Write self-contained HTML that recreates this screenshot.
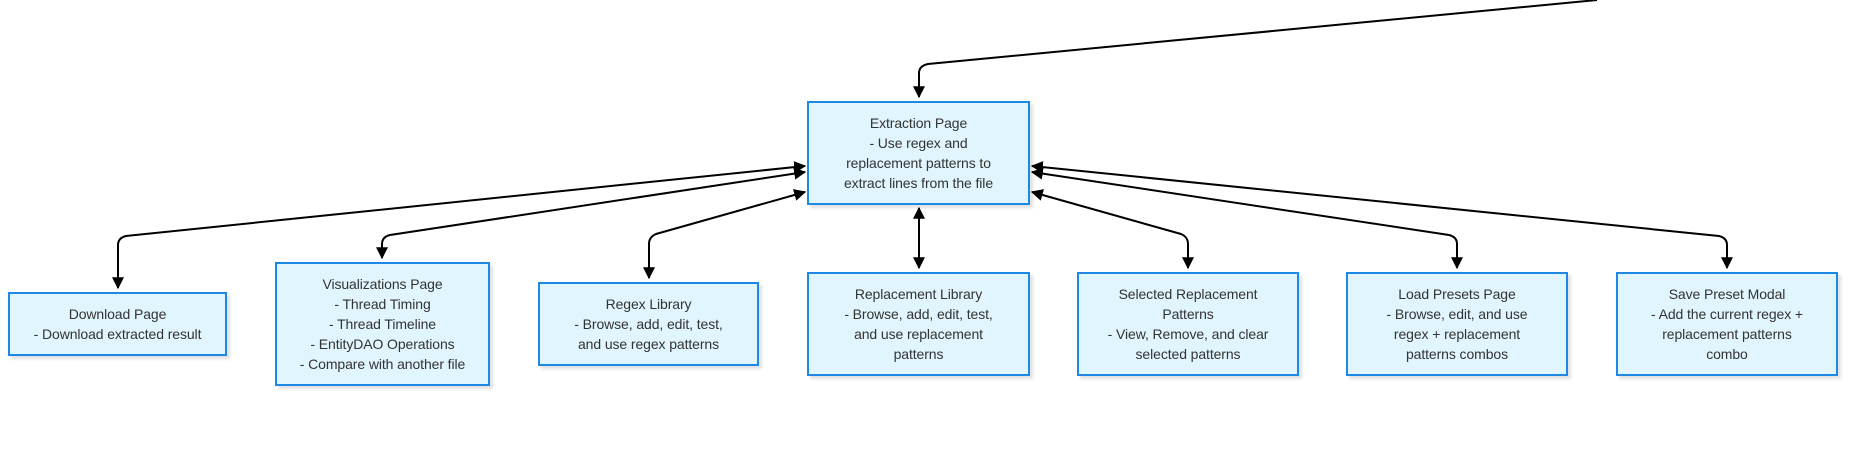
<!DOCTYPE html>
<html><head><meta charset="utf-8"><style>
body{margin:0;width:1874px;height:458px;background:#fff;position:relative;overflow:hidden;font-family:"Liberation Sans",sans-serif}
.b{position:absolute;box-sizing:border-box;background:#e1f5fe;border:2px solid #1e88e5;box-shadow:3px 3px 3px rgba(0,0,0,.12);display:flex;align-items:center;justify-content:center;text-align:center;font-size:14px;line-height:20px;color:#333;letter-spacing:-0.1px}
svg{position:absolute;left:0;top:0}
</style></head><body>
<svg width="1874" height="458">
<defs><marker id="a" viewBox="0 0 10 10" refX="9" refY="5" markerWidth="6" markerHeight="6" orient="auto-start-reverse"><path d="M0 0L10 5L0 10z" fill="#000"/></marker></defs>
<g fill="none" stroke="#000" stroke-width="2">
<path d="M1597 0 L928 64 Q919 66 919 73 L919 97" marker-end="url(#a)"/>
<path d="M805 166 L126 236 Q118 238 118 245 L118 288" marker-start="url(#a)" marker-end="url(#a)"/>
<path d="M805 172 L390 235 Q382 237 382 244 L382 258" marker-start="url(#a)" marker-end="url(#a)"/>
<path d="M805 192 L656 234 Q649 237 649 244 L649 278" marker-start="url(#a)" marker-end="url(#a)"/>
<path d="M919 208 L919 268" marker-start="url(#a)" marker-end="url(#a)"/>
<path d="M1032 192 L1181 234 Q1188 237 1188 244 L1188 268" marker-start="url(#a)" marker-end="url(#a)"/>
<path d="M1032 172 L1449 235 Q1457 237 1457 244 L1457 268" marker-start="url(#a)" marker-end="url(#a)"/>
<path d="M1032 166 L1719 236 Q1727 238 1727 245 L1727 268" marker-start="url(#a)" marker-end="url(#a)"/>
</g></svg>
<div class="b" style="left:807px;top:101px;width:223px;height:104px"><div>Extraction Page<br>- Use regex and<br>replacement patterns to<br>extract lines from the file</div></div>
<div class="b" style="left:8px;top:292px;width:219px;height:64px"><div>Download Page<br>- Download extracted result</div></div>
<div class="b" style="left:275px;top:262px;width:215px;height:124px"><div>Visualizations Page<br>- Thread Timing<br>- Thread Timeline<br>- EntityDAO Operations<br>- Compare with another file</div></div>
<div class="b" style="left:538px;top:282px;width:221px;height:84px"><div>Regex Library<br>- Browse, add, edit, test,<br>and use regex patterns</div></div>
<div class="b" style="left:807px;top:272px;width:223px;height:104px"><div>Replacement Library<br>- Browse, add, edit, test,<br>and use replacement<br>patterns</div></div>
<div class="b" style="left:1077px;top:272px;width:222px;height:104px"><div>Selected Replacement<br>Patterns<br>- View, Remove, and clear<br>selected patterns</div></div>
<div class="b" style="left:1346px;top:272px;width:222px;height:104px"><div>Load Presets Page<br>- Browse, edit, and use<br>regex + replacement<br>patterns combos</div></div>
<div class="b" style="left:1616px;top:272px;width:222px;height:104px"><div>Save Preset Modal<br>- Add the current regex +<br>replacement patterns<br>combo</div></div>
</body></html>
